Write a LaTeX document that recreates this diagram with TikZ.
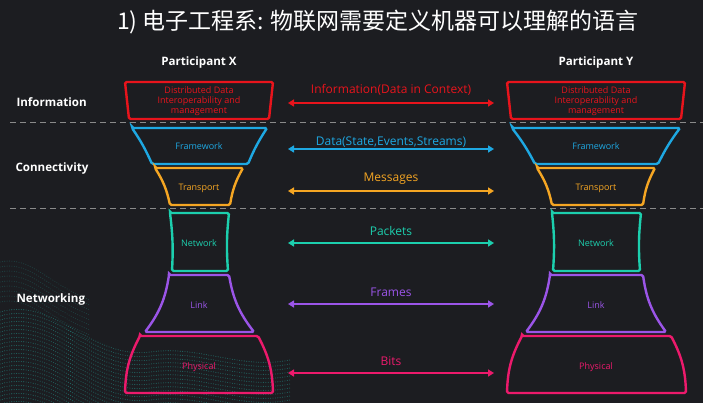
\documentclass[tikz,border=0pt]{standalone}
\usepackage{fontspec}
\setmainfont{Open Sans}
\newfontfamily\cjk{Noto Sans CJK SC}
\usetikzlibrary{arrows.meta}
\definecolor{bg}{HTML}{1C1D21}
\definecolor{cred}{HTML}{E8141C}
\definecolor{cblue}{HTML}{1EA8E2}
\definecolor{corange}{HTML}{F5A623}
\definecolor{cteal}{HTML}{1CCFAE}
\definecolor{cpurple}{HTML}{9B55E8}
\definecolor{cpink}{HTML}{EC1A6C}
\definecolor{dashgray}{HTML}{8A8A8A}
\definecolor{wavecol}{HTML}{23938C}
\begin{document}
\begin{tikzpicture}[x=1pt,y=-1pt,
  layer/.style={line width=2.4pt, rounded corners=1.5pt},
  ltext/.style={font=\fontsize{9}{9.8}\selectfont, align=center},
  biarrow/.style={line width=2pt, {Triangle[length=6pt,width=7pt]}-{Triangle[length=6pt,width=7pt]}},
  alabel/.style={font=\fontsize{12}{14}\selectfont},
  side/.style={font=\bfseries\fontsize{11.6}{13}\selectfont, text=white, anchor=west},
  part/.style={font=\bfseries\fontsize{11.6}{13}\selectfont, text=white},
  sep/.style={dashgray, line width=1pt, dash pattern=on 6pt off 4pt},
  wave/.style={wavecol, opacity=0.6, line width=1.1pt, line cap=round, dash pattern=on 0pt off 2.4pt}]
\fill[bg] (0,0) rectangle (703,403);
\useasboundingbox (0,0) rectangle (703,403);
% dotted wave
\begin{scope}
\clip (0,240) rectangle (290,403);
\foreach \k in {0,...,24} {
  \draw[wave] (0,{312+4*\k}) .. controls (55,{296+4*\k}) and (90,{360+4*\k}) .. (150,{352+4*\k}) .. controls (200,{345+4*\k}) and (240,{370+4*\k}) .. (290,{360+4*\k});
}
\foreach \k in {0,...,8} {
  \draw[wave, opacity=0.3] (0,{262+5*\k}) .. controls (30,{255+5*\k}) and (50,{285+5*\k}) .. (90,{300+5*\k});
}
\end{scope}
% title
\node[text=white, font=\cjk\fontsize{23}{26}\selectfont] (title) at (378,22) {1) 电子工程系: 物联网需要定义机器可以理解的语言};
% participants
\node[part] (px) at (199,62) {Participant X};
\node[part] (py) at (596,62) {Participant Y};
% side labels
\node[side] (sinfo) at (13,102) {Information};
\node[side] (sconn) at (12,168) {Connectivity};
\node[side] (snet) at (13,299) {Networking};
% separators
\coordinate (d1a) at (10,123); \coordinate (d1b) at (703,123);
\coordinate (d2a) at (10,209); \coordinate (d2b) at (703,209);
\draw[sep] (d1a) -- (d1b);
\draw[sep] (d2a) -- (d2b);
% left stack
\draw[layer,cred] (125,82) -- (273,82) -- (269,119) -- (129,119) -- cycle;
\node[ltext,text=cred] (xinfo) at (199,101) {Distributed Data\\Interoperability and\\management};
\draw[layer,cblue] (132,128) -- (267,128) to[bend right=5] (248,164) -- (152,164) to[bend right=5] cycle;
\node[ltext,text=cblue] (xfw) at (199,146) {Framework};
\draw[layer,corange] (155,168) -- (243,168) to[bend right=10] (230,205) -- (170,205) to[bend right=10] cycle;
\node[ltext,text=corange] (xtr) at (199,188) {Transport};
\draw[layer,cteal] (170,213) -- (229,213) to[bend right=5] (228,271) -- (172,271) to[bend right=5] cycle;
\node[ltext,text=cteal] (xnw) at (199,243) {Network};
\draw[layer,cpurple] (169,275) -- (229,275) to[bend right=14] (254,332) -- (145,332) to[bend right=14] cycle;
\node[ltext,text=cpurple] (xlk) at (199,305) {Link};
\draw[layer,cpink] (140,336) -- (258,336) to[bend left=13] (273,393) -- (125,393) to[bend left=13] cycle;
\node[ltext,text=cpink] (xph) at (199,367) {Physical};
% right stack
\draw[layer,cred] (507,82) -- (685,82) -- (681,119) -- (511,119) -- cycle;
\node[ltext,text=cred] (yinfo) at (596,101) {Distributed Data\\Interoperability and\\management};
\draw[layer,cblue] (512,128) -- (680,128) to[bend right=5] (658,164) -- (535,164) to[bend right=5] cycle;
\node[ltext,text=cblue] (yfw) at (596,146) {Framework};
\draw[layer,corange] (537,168) -- (655,168) to[bend right=10] (643,205) -- (552,205) to[bend right=10] cycle;
\node[ltext,text=corange] (ytr) at (596,188) {Transport};
\draw[layer,cteal] (552,213) -- (641,213) to[bend right=5] (640,271) -- (553,271) to[bend right=5] cycle;
\node[ltext,text=cteal] (ynw) at (596,243) {Network};
\draw[layer,cpurple] (550,275) -- (643,275) to[bend right=14] (666,332) -- (526,332) to[bend right=14] cycle;
\node[ltext,text=cpurple] (ylk) at (596,305) {Link};
\draw[layer,cpink] (522,336) -- (671,336) to[bend left=13] (686,393) -- (507,393) to[bend left=13] cycle;
\node[ltext,text=cpink] (yph) at (596,367) {Physical};
% arrows
\foreach \n/\y in {1/103,2/149,3/191,4/243,5/304,6/373} {
  \coordinate (aL\n) at (288,\y);
  \coordinate (aR\n) at (494,\y);
}
\draw[biarrow,cred] (aL1) -- (aR1);
\draw[biarrow,cblue] (aL2) -- (aR2);
\draw[biarrow,corange] (aL3) -- (aR3);
\draw[biarrow,cteal] (aL4) -- (aR4);
\draw[biarrow,cpurple] (aL5) -- (aR5);
\draw[biarrow,cpink] (aL6) -- (aR6);
\node[alabel,text=cred] (l1) at (391,90) {Information(Data in Context)};
\node[alabel,text=cblue] (l2) at (391,142.5) {Data(State,Events,Streams)};
\node[alabel,text=corange] (l3) at (391,179) {Messages};
\node[alabel,text=cteal] (l4) at (391,231) {Packets};
\node[alabel,text=cpurple] (l5) at (391,292) {Frames};
\node[alabel,text=cpink] (l6) at (391,361) {Bits};
\end{tikzpicture}
\end{document}
